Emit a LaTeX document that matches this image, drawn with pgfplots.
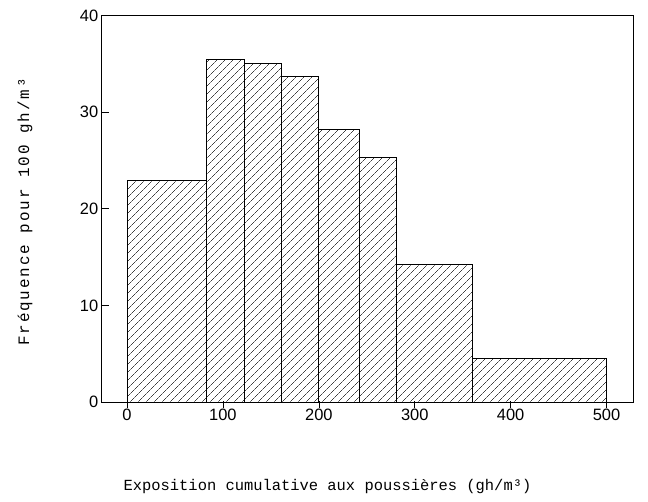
\documentclass[border=0pt]{standalone}
\usepackage{fontspec}
\setmainfont{Liberation Sans}
\newfontfamily\tw{Liberation Mono}
\newfontfamily\twy[LetterSpace=12]{Liberation Mono}
\usepackage{pgfplots}
\pgfplotsset{compat=1.18}
\usetikzlibrary{patterns.meta}
\begin{document}
\begin{tikzpicture}
\begin{axis}[
  scale only axis, width=531.3bp, height=386.3bp,
  xmin=-26.4, xmax=527.6, ymin=0, ymax=40,
  xtick={0,100,200,300,400,500}, ytick={0,10,20,30,40},
  xtick pos=left, ytick pos=left,
  tick align=inside, major tick length=7bp,
  x tick style={yshift=-6bp, line width=0.6pt, black},
  y tick style={line width=0.9pt, black},
  axis line style={line width=0.9pt},
  /pgf/number format/assume math mode=true,
  tick label style={font=\fontsize{16.5}{16.5}\selectfont},
  x tick label style={yshift=-4bp},
]
\addplot[ybar interval, draw=black, line width=0.9pt,
  pattern={Lines[angle=45,distance=6bp,line width=0.6bp]}, pattern color=black!75]
coordinates {(0,22.9) (83,35.5) (122,35.1) (161,33.7) (200,28.2) (242,25.3) (281,14.2) (360,4.5) (500,4.5)};
\end{axis}
\node[font=\tw\fontsize{15.5}{18}\selectfont] at (225.8bp,-85bp) {Exposition cumulative aux poussières (gh/m³)};
\node[font=\twy\fontsize{16}{18}\selectfont, rotate=90] at (-76.7bp,190bp) {Fréquence pour 100 gh/m³};
\pgfresetboundingbox
\path[use as bounding box] (-101.7bp,-100bp) rectangle (546.3bp,402bp);
\end{tikzpicture}
\end{document}
